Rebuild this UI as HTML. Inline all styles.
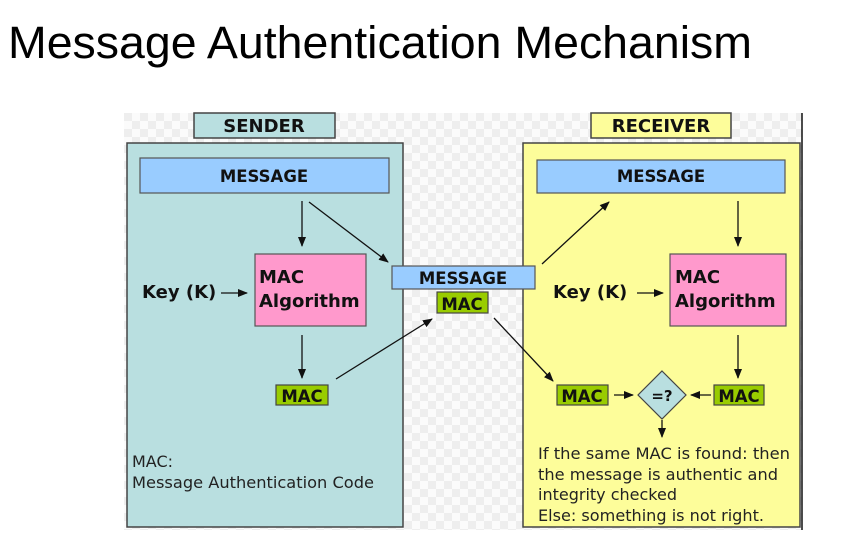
<!DOCTYPE html>
<html><head><meta charset="utf-8"><style>
html,body{margin:0;padding:0;background:#fff;width:852px;height:553px;overflow:hidden}
svg{display:block}
</style></head><body>
<svg width="852" height="553" viewBox="0 0 852 553" xmlns="http://www.w3.org/2000/svg">
<defs>
<pattern id="chk" x="124" y="113" width="16" height="16" patternUnits="userSpaceOnUse">
<rect width="16" height="16" fill="#fbfbfb"/>
<rect width="8" height="8" fill="#eeeeee"/>
<rect x="8" y="8" width="8" height="8" fill="#eeeeee"/>
</pattern>
<marker id="ah" markerWidth="10" markerHeight="10" refX="9" refY="5" orient="auto" markerUnits="userSpaceOnUse">
<path d="M0,1 L10,5 L0,9 Z" fill="#111"/>
</marker>
</defs>
<text x="8" y="58" font-family="Liberation Sans, Arial, sans-serif" font-size="45" fill="#000" textLength="744" lengthAdjust="spacingAndGlyphs">Message Authentication Mechanism</text>

<rect x="124" y="113" width="678" height="417" fill="url(#chk)"/>
<line x1="802" y1="113" x2="802" y2="530" stroke="#111" stroke-width="1.5"/>

<rect x="127" y="143" width="276" height="384" fill="#b9dfe0" stroke="#444" stroke-width="1.5"/>
<rect x="194" y="113" width="141" height="25" fill="#b9dfe0" stroke="#444" stroke-width="1.5"/>
<rect x="140" y="158" width="249" height="35" fill="#99ccff" stroke="#555" stroke-width="1.2"/>
<rect x="255" y="254" width="111" height="72" fill="#ff99cc" stroke="#555" stroke-width="1.2"/>
<rect x="276" y="385" width="52" height="20" fill="#99cc00" stroke="#444" stroke-width="1.2"/>

<rect x="523" y="143" width="277" height="384" fill="#fdfd9a" stroke="#444" stroke-width="1.5"/>
<rect x="591" y="113" width="140" height="25" fill="#fdfd9a" stroke="#444" stroke-width="1.5"/>
<rect x="537" y="160" width="248" height="33" fill="#99ccff" stroke="#555" stroke-width="1.2"/>
<rect x="670" y="254" width="116" height="72" fill="#ff99cc" stroke="#555" stroke-width="1.2"/>
<rect x="557" y="385" width="51" height="20" fill="#99cc00" stroke="#444" stroke-width="1.2"/>
<rect x="714" y="385" width="50" height="20" fill="#99cc00" stroke="#444" stroke-width="1.2"/>
<polygon points="662,371 686,395 662,419 638,395" fill="#b9dfe0" stroke="#444" stroke-width="1.2"/>

<rect x="392" y="266" width="143" height="23" fill="#99ccff" stroke="#555" stroke-width="1.2"/>
<rect x="437" y="292" width="51" height="21" fill="#99cc00" stroke="#444" stroke-width="1.2"/>

<g stroke="#111" stroke-width="1.3" fill="none" marker-end="url(#ah)">
<line x1="302" y1="201" x2="302" y2="246"/>
<line x1="309" y1="202" x2="388" y2="262"/>
<line x1="221" y1="293" x2="247" y2="293"/>
<line x1="302" y1="335" x2="302" y2="378"/>
<line x1="336" y1="379" x2="432" y2="319"/>
<line x1="494" y1="318" x2="553" y2="381"/>
<line x1="542" y1="264" x2="609" y2="202"/>
<line x1="738" y1="201" x2="738" y2="246"/>
<line x1="637" y1="293" x2="663" y2="293"/>
<line x1="738" y1="335" x2="738" y2="378"/>
<line x1="614" y1="395" x2="633" y2="395"/>
<line x1="711" y1="395" x2="691" y2="395"/>
<line x1="662" y1="420" x2="662" y2="437"/>
</g>

<g font-family="DejaVu Sans, sans-serif" font-weight="bold" fill="#111">
<text x="264" y="132" font-size="18" text-anchor="middle">SENDER</text>
<text x="661" y="132" font-size="18" text-anchor="middle">RECEIVER</text>
<text x="264" y="182" font-size="16.5" text-anchor="middle">MESSAGE</text>
<text x="661" y="182" font-size="16.5" text-anchor="middle">MESSAGE</text>
<text x="463" y="284" font-size="16.5" text-anchor="middle">MESSAGE</text>
<text x="462" y="310" font-size="16.5" text-anchor="middle">MAC</text>
<text x="302" y="402" font-size="16.5" text-anchor="middle">MAC</text>
<text x="582" y="402" font-size="16.5" text-anchor="middle">MAC</text>
<text x="739" y="402" font-size="16.5" text-anchor="middle">MAC</text>
<text x="662" y="401" font-size="15" text-anchor="middle">=?</text>
<text x="259" y="283" font-size="18">MAC</text>
<text x="259" y="307" font-size="18">Algorithm</text>
<text x="675" y="283" font-size="18">MAC</text>
<text x="675" y="307" font-size="18">Algorithm</text>
<text x="142" y="298" font-size="18">Key (K)</text>
<text x="553" y="298" font-size="18">Key (K)</text>
</g>
<g font-family="DejaVu Sans, sans-serif" font-size="16" fill="#222">
<text x="132" y="467">MAC:</text>
<text x="132" y="488" textLength="242" lengthAdjust="spacingAndGlyphs">Message Authentication Code</text>
<text x="538" y="459" textLength="252" lengthAdjust="spacingAndGlyphs">If the same MAC is found: then</text>
<text x="538" y="480" textLength="240" lengthAdjust="spacingAndGlyphs">the message is authentic and</text>
<text x="538" y="500">integrity checked</text>
<text x="538" y="521" textLength="226" lengthAdjust="spacingAndGlyphs">Else: something is not right.</text>
</g>
</svg>
</body></html>
